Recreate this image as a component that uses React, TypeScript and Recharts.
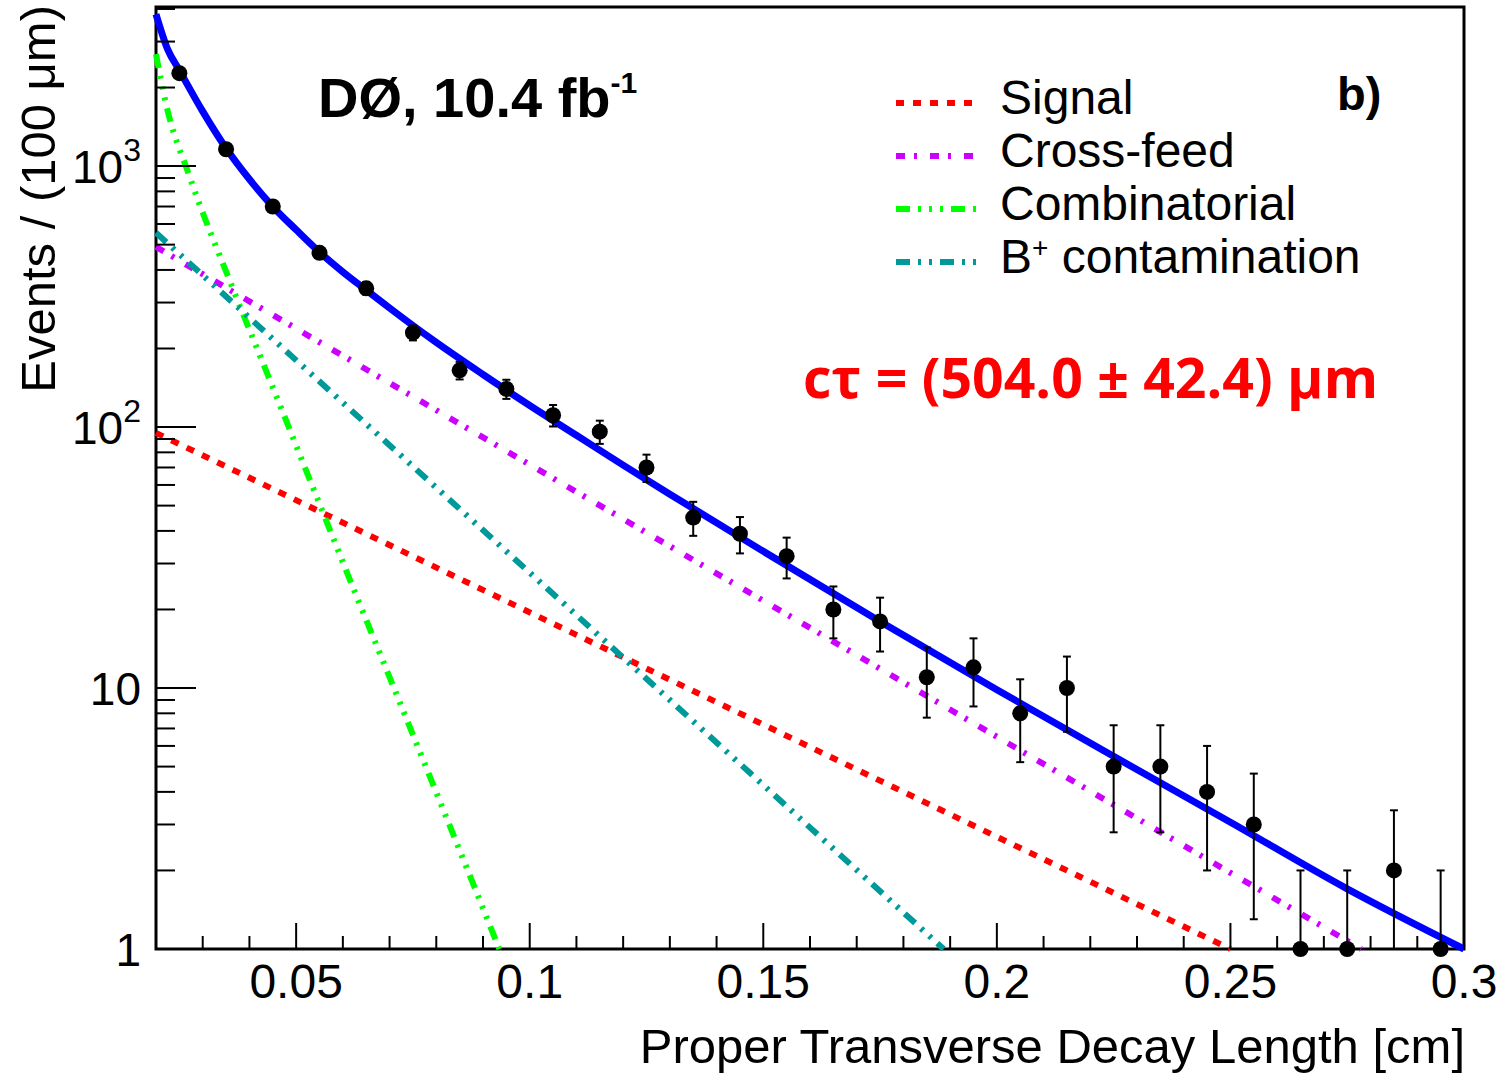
import React from "react";
import {
  ComposedChart,
  Line,
  Scatter,
  ErrorBar,
  XAxis,
  YAxis,
  Legend,
  ReferenceArea,
} from "recharts";

// data points: bin centres [cm], events per 100 um, errors (clipped at the axis)
const binCenters = [
  0.025, 0.035, 0.045, 0.055, 0.065, 0.075, 0.085, 0.095, 0.105, 0.115, 0.125,
  0.135, 0.145, 0.155, 0.165, 0.175, 0.185, 0.195, 0.205, 0.215, 0.225, 0.235,
  0.245, 0.255, 0.265, 0.275, 0.285, 0.295,
];
const counts = [
  2270, 1160, 700, 465, 340, 230, 165, 140, 111, 96, 70, 45, 39, 32, 20, 18, 11,
  12, 8, 10, 5, 5, 4, 3, 1, 1, 2, 1,
];
const errHigh = [
  47.6, 34.1, 26.5, 21.6, 18.4, 15.2, 12.8, 11.8, 10.5, 9.8, 8.4, 6.7, 6.2, 5.7,
  4.5, 4.2, 3.3, 3.5, 2.8, 3.2, 2.2, 2.2, 2.0, 1.7, 1.0, 1.0, 1.4, 1.0,
];
const errLow = [
  47.6, 34.1, 26.5, 21.6, 18.4, 15.2, 12.8, 11.8, 10.5, 9.8, 8.4, 6.7, 6.2, 5.7,
  4.5, 4.2, 3.3, 3.5, 2.8, 3.2, 2.2, 2.2, 2.0, 1.7, 0, 0, 1, 0,
];

// fit components
const signalX = [0.02, 0.25];
const signalY = [95, 1];
const crossX = [0.02, 0.278];
const crossY = [490, 1];
const combX = [0.02, 0.022, 0.0273, 0.0358, 0.045, 0.0544, 0.0636, 0.07, 0.0935];
const combY = [2685, 1775, 900, 363, 142, 54, 21, 11, 1];
const bplusX = [0.02, 0.1886];
const bplusY = [555, 1];
const totalX = [
  0.02, 0.0225, 0.025, 0.03, 0.035, 0.04, 0.045, 0.05, 0.055, 0.06, 0.065, 0.07,
  0.075, 0.08, 0.09, 0.1, 0.11, 0.12, 0.13, 0.15, 0.175, 0.2, 0.225, 0.25, 0.275,
  0.3,
];
const totalY = [
  3820, 2800, 2330, 1620, 1170, 890, 700, 570, 468, 393, 335, 286, 245, 211, 159,
  121, 93, 71.5, 55.3, 33.4, 18, 9.85, 5.47, 3.06, 1.7, 1.0,
];

// axis ticks
const xTicks = [
  0.02, 0.03, 0.04, 0.05, 0.06, 0.07, 0.08, 0.09, 0.1, 0.11, 0.12, 0.13, 0.14,
  0.15, 0.16, 0.17, 0.18, 0.19, 0.2, 0.21, 0.22, 0.23, 0.24, 0.25, 0.26, 0.27,
  0.28, 0.29, 0.3,
];
const yTicks = [
  1, 2, 3, 4, 5, 6, 7, 8, 9, 10, 20, 30, 40, 50, 60, 70, 80, 90, 100, 200, 300,
  400, 500, 600, 700, 800, 900, 1000, 2000, 3000, 4000,
];

const toPoints = (xs: number[], ys: number[]) =>
  xs.map((x, i) => ({ x, y: ys[i] }));

const points = binCenters.map((x, i) => ({
  x,
  y: counts[i],
  err: [errLow[i], errHigh[i]],
}));

const components = [
  { name: "Signal", color: "#ff0000", dash: "8 9", data: toPoints(signalX, signalY), curve: "linear" },
  { name: "Cross-feed", color: "#cc00ff", dash: "9 9 3 13", data: toPoints(crossX, crossY), curve: "linear" },
  { name: "Combinatorial", color: "#00ff00", dash: "14 8 3 8 3 8 3 8", data: toPoints(combX, combY), curve: "monotone" },
  { name: "B+ contamination", color: "#009999", dash: "14 8 3 8 3 8", data: toPoints(bplusX, bplusY), curve: "linear" },
];

const FONT = "'Liberation Sans', Arial, Helvetica, sans-serif";
const PLOT_L = 156;
const PLOT_B = 949;

const XTick = (props: any) => {
  const { x, payload } = props;
  const v = payload.value;
  const major = Math.round(v * 100) % 5 === 0;
  const len = major ? 26 : 13;
  return (
    <g>
      <line x1={x} x2={x} y1={PLOT_B} y2={PLOT_B - len} stroke="#000" strokeWidth={2} />
      {major && v > 0.02 && (
        <text x={x} y={998} textAnchor="middle" fontSize={48} fontFamily={FONT} fill="#000">
          {String(v)}
        </text>
      )}
    </g>
  );
};

const YTick = (props: any) => {
  const { y, payload } = props;
  const v = payload.value;
  const lg = Math.log10(v);
  const major = Math.abs(lg - Math.round(lg)) < 1e-6;
  const len = major ? 40 : 19;
  const exp = Math.round(lg);
  return (
    <g>
      <line x1={PLOT_L} x2={PLOT_L + len} y1={y} y2={y} stroke="#000" strokeWidth={2} />
      {major && (
        <text x={141} y={y + 17} textAnchor="end" fontSize={46} fontFamily={FONT} fill="#000">
          {exp < 2 ? String(v) : "10"}
          {exp >= 2 && (
            <tspan fontSize={32} dy={-22}>
              {exp}
            </tspan>
          )}
        </text>
      )}
    </g>
  );
};

const LegendBox = () => (
  <svg width={520} height={230}>
    {components.map((c, i) => {
      const base = 54 + i * 53;
      return (
        <g key={c.name}>
          <line
            x1={16}
            x2={98}
            y1={base - 11}
            y2={base - 11}
            stroke={c.color}
            strokeWidth={6}
            strokeDasharray={c.dash}
          />
          <text x={120} y={base} fontSize={48} fontFamily={FONT} fill="#000">
            {c.name === "B+ contamination" ? (
              <>
                B
                <tspan fontSize={28} dy={-16}>
                  +
                </tspan>
                <tspan dy={16}> contamination</tspan>
              </>
            ) : (
              c.name
            )}
          </text>
        </g>
      );
    })}
  </svg>
);

const Dot = (props: any) => <circle cx={props.cx} cy={props.cy} r={8} fill="#000" />;

export default function App() {
  return (
    <div style={{ position: "absolute", left: 0, top: 0, width: 1507, height: 1073, background: "#fff" }}>
      <ComposedChart width={1507} height={1073} margin={{ top: 7, right: 43, bottom: 0, left: 0 }}>
        <XAxis
          type="number"
          dataKey="x"
          domain={[0.02, 0.3]}
          ticks={xTicks}
          interval={0}
          tick={(p: any) => <XTick {...p} />}
          tickLine={false}
          axisLine={false}
          tickSize={0}
          tickMargin={0}
          height={124}
        />
        <YAxis
          type="number"
          scale="log"
          domain={[1, 4070]}
          ticks={yTicks}
          interval={0}
          tick={(p: any) => <YTick {...p} />}
          tickLine={false}
          axisLine={false}
          tickSize={0}
          tickMargin={0}
          width={156}
        />
        {components.map((c) => (
          <Line
            key={c.name}
            data={c.data}
            dataKey="y"
            name={c.name}
            type={c.curve as any}
            stroke={c.color}
            strokeWidth={6}
            strokeDasharray={c.dash}
            dot={false}
            activeDot={false}
            isAnimationActive={false}
          />
        ))}
        <Line
          data={toPoints(totalX, totalY)}
          dataKey="y"
          name="Total"
          type="monotone"
          stroke="#0000ff"
          strokeWidth={7}
          dot={false}
          activeDot={false}
          isAnimationActive={false}
          legendType="none"
        />
        <Scatter data={points} dataKey="y" shape={Dot} isAnimationActive={false} legendType="none">
          <ErrorBar dataKey="err" direction="y" width={4} stroke="#000" strokeWidth={2} isAnimationActive={false} />
        </Scatter>
        <ReferenceArea x1={0.02} x2={0.3} y1={1} y2={4070} fill="none" stroke="#000" strokeWidth={3} ifOverflow="visible" />
        <Legend
          layout="vertical"
          align="center"
          verticalAlign="middle"
          content={() => <LegendBox />}
          wrapperStyle={{ left: 880, top: 60, width: 520, height: 230 }}
        />
      </ComposedChart>
      <svg
        width={1507}
        height={1073}
        style={{ position: "absolute", left: 0, top: 0, pointerEvents: "none" }}
      >
        <text transform="translate(55,5) rotate(-90)" textAnchor="end" fontSize={49} fontFamily={FONT}>
          Events / (100 μm)
        </text>
        <text x={1465} y={1063} textAnchor="end" fontSize={49} fontFamily={FONT}>
          Proper Transverse Decay Length [cm]
        </text>
        <text x={318} y={117} fontSize={56} fontWeight="bold" fontFamily={FONT}>
          DØ, 10.4 fb
          <tspan fontSize={30} dy={-24}>
            -1
          </tspan>
        </text>
        <text x={1337} y={110} fontSize={47} fontWeight="bold" fontFamily={FONT}>
          b)
        </text>
        <text
          x={803}
          y={398}
          fontSize={56}
          fontWeight="bold"
          fill="#ff0000"
          fontFamily="'Open Sans', 'Noto Sans', sans-serif"
          textLength={575}
          lengthAdjust="spacingAndGlyphs"
        >
          cτ = (504.0 ± 42.4) μm
        </text>
      </svg>
    </div>
  );
}
